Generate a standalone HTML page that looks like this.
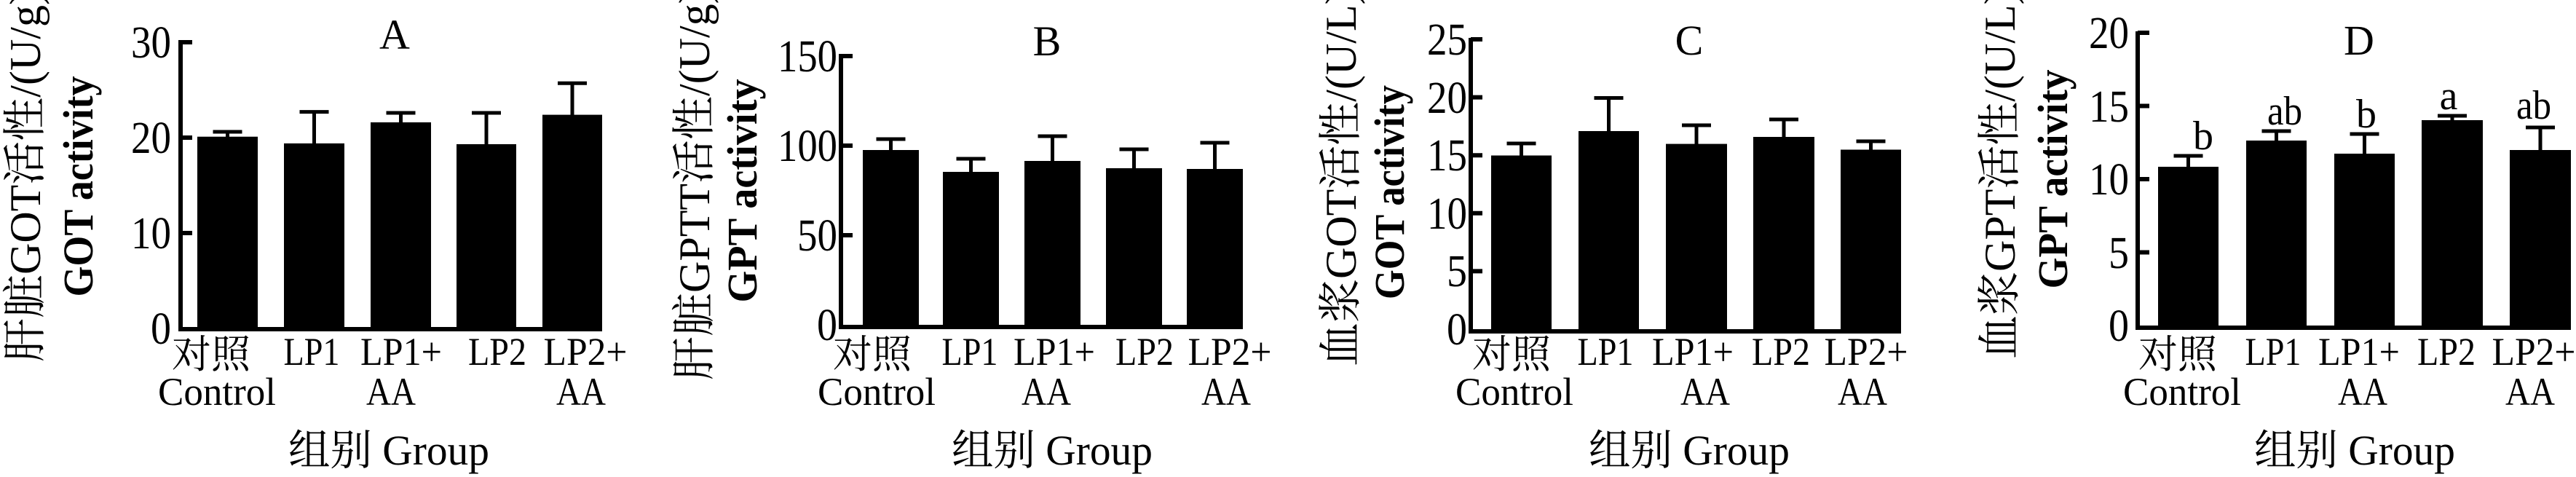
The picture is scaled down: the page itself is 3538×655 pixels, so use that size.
<!DOCTYPE html>
<html><head><meta charset="utf-8"><style>
html,body{margin:0;padding:0;background:#fff;}
svg{display:block}
svg text{font-family:"Liberation Serif","Noto Serif CJK SC",serif;fill:#000}
.t{font-size:62px}
.x{font-size:54px}
.yl{font-size:60px}
.y2{font-size:58px;font-weight:bold}
</style></head><body>
<svg width="3538" height="655" viewBox="0 0 3538 655" xmlns="http://www.w3.org/2000/svg" font-family="Liberation Serif, Noto Serif CJK SC, serif">
<g stroke="#000" fill="none" stroke-width="6">
<path d="M248 55 V452 H827"/>
<path d="M248 58 H264 M248 189 H264 M248 320 H264"/>
<path d="M1155 74 V449 H1707"/>
<path d="M1155 77 H1171 M1155 200 H1171 M1155 323 H1171"/>
<path d="M2020 52 V455 H2611"/>
<path d="M2020 54 H2036 M2020 133.6 H2036 M2020 213.2 H2036 M2020 292.8 H2036 M2020 372.4 H2036"/>
<path d="M2936 43 V450 H3531"/>
<path d="M2936 45 H2952 M2936 145.5 H2952 M2936 246 H2952 M2936 346.5 H2952"/>
</g>
<g fill="#000">
<rect x="271" y="187.7" width="83" height="264"/>
<rect x="390" y="196.9" width="83" height="255"/>
<rect x="509" y="168" width="83" height="284"/>
<rect x="627" y="198" width="82" height="254"/>
<rect x="745" y="157.6" width="82" height="295"/>
<rect x="1185" y="206" width="77" height="242"/>
<rect x="1295" y="236" width="77" height="212"/>
<rect x="1407" y="221" width="77" height="227"/>
<rect x="1519" y="231" width="77" height="217"/>
<rect x="1630" y="232" width="77" height="216"/>
<rect x="2048" y="213.5" width="83" height="240"/>
<rect x="2168" y="180" width="83" height="274"/>
<rect x="2288" y="197.6" width="84" height="256"/>
<rect x="2408" y="188" width="84" height="266"/>
<rect x="2528" y="205.5" width="83" height="248"/>
<rect x="2964" y="229" width="83" height="220"/>
<rect x="3085" y="193" width="83" height="256"/>
<rect x="3206" y="211" width="83" height="238"/>
<rect x="3326" y="165" width="84" height="284"/>
<rect x="3447" y="206" width="84" height="243"/>
</g>
<g stroke="#000" stroke-width="5" fill="none">
<path d="M312.5 188 V181 M292.5 181 H332.5"/>
<path d="M431.5 197 V153.6 M411.5 153.6 H451.5"/>
<path d="M550.5 168 V155 M530.5 155 H570.5"/>
<path d="M668 198 V155 M648 155 H688"/>
<path d="M786 158 V114.3 M766 114.3 H806"/>
<path d="M1223.5 206 V191 M1203.5 191 H1243.5"/>
<path d="M1333.5 236 V218 M1313.5 218 H1353.5"/>
<path d="M1445.5 221 V187 M1425.5 187 H1465.5"/>
<path d="M1557.5 231 V205 M1537.5 205 H1577.5"/>
<path d="M1668.5 232 V196 M1648.5 196 H1688.5"/>
<path d="M2089.5 214 V197 M2069.5 197 H2109.5"/>
<path d="M2209.5 180 V134.5 M2189.5 134.5 H2229.5"/>
<path d="M2330 198 V172 M2310 172 H2350"/>
<path d="M2450 188 V164 M2430 164 H2470"/>
<path d="M2569.5 206 V194 M2549.5 194 H2589.5"/>
<path d="M3005.5 229 V214 M2985.5 214 H3025.5"/>
<path d="M3126.5 193 V180 M3106.5 180 H3146.5"/>
<path d="M3247.5 211 V184 M3227.5 184 H3267.5"/>
<path d="M3368 165 V159 M3348 159 H3388"/>
<path d="M3489 206 V175 M3469 175 H3509"/>
</g>

<g class="t" text-anchor="end" font-family="Liberation Serif, serif">
<text x="235" y="79" textLength="55" lengthAdjust="spacingAndGlyphs">30</text><text x="235" y="210" textLength="55" lengthAdjust="spacingAndGlyphs">20</text><text x="235" y="341" textLength="55" lengthAdjust="spacingAndGlyphs">10</text><text x="235" y="472" textLength="28" lengthAdjust="spacingAndGlyphs">0</text>
<text x="1150" y="98" textLength="82" lengthAdjust="spacingAndGlyphs">150</text><text x="1150" y="221" textLength="82" lengthAdjust="spacingAndGlyphs">100</text><text x="1150" y="344" textLength="55" lengthAdjust="spacingAndGlyphs">50</text><text x="1150" y="467" textLength="28" lengthAdjust="spacingAndGlyphs">0</text>
<text x="2015" y="75" textLength="55" lengthAdjust="spacingAndGlyphs">25</text><text x="2015" y="155" textLength="55" lengthAdjust="spacingAndGlyphs">20</text><text x="2015" y="234" textLength="55" lengthAdjust="spacingAndGlyphs">15</text><text x="2015" y="314" textLength="55" lengthAdjust="spacingAndGlyphs">10</text><text x="2015" y="393" textLength="28" lengthAdjust="spacingAndGlyphs">5</text><text x="2015" y="473" textLength="28" lengthAdjust="spacingAndGlyphs">0</text>
<text x="2924" y="66" textLength="55" lengthAdjust="spacingAndGlyphs">20</text><text x="2924" y="167" textLength="55" lengthAdjust="spacingAndGlyphs">15</text><text x="2924" y="267" textLength="55" lengthAdjust="spacingAndGlyphs">10</text><text x="2924" y="368" textLength="28" lengthAdjust="spacingAndGlyphs">5</text><text x="2924" y="468" textLength="28" lengthAdjust="spacingAndGlyphs">0</text>
</g>
<g class="t" text-anchor="middle" font-family="Liberation Serif, serif" style="font-size:58px">
<text x="542" y="67">A</text><text x="1438" y="76">B</text><text x="2320" y="75">C</text><text x="3240" y="75">D</text>
</g>
<g class="t" text-anchor="middle" style="font-size:56px" font-family="Liberation Serif, serif">
<text x="3026" y="205">b</text><text x="3138" y="171" textLength="48" lengthAdjust="spacingAndGlyphs">ab</text><text x="3250" y="175">b</text><text x="3363" y="150">a</text><text x="3480" y="163" textLength="48" lengthAdjust="spacingAndGlyphs">ab</text>
</g>

<g class="x" text-anchor="middle" font-family="Liberation Serif, Noto Serif CJK SC, serif">
<text x="290" y="505" style="font-size:54px">对照</text>
<text x="298" y="556" textLength="162" lengthAdjust="spacingAndGlyphs">Control</text>
<text x="428" y="501" textLength="77" lengthAdjust="spacingAndGlyphs">LP1</text>
<text x="551" y="501" textLength="112" lengthAdjust="spacingAndGlyphs">LP1+</text>
<text x="537" y="556" textLength="68" lengthAdjust="spacingAndGlyphs">AA</text>
<text x="683" y="501" textLength="80" lengthAdjust="spacingAndGlyphs">LP2</text>
<text x="804" y="501" textLength="115" lengthAdjust="spacingAndGlyphs">LP2+</text>
<text x="798" y="556" textLength="68" lengthAdjust="spacingAndGlyphs">AA</text>
<text x="534" y="638" style="font-size:58px" textLength="276" lengthAdjust="spacingAndGlyphs">组别 Group</text>

<text x="1198" y="505" style="font-size:54px">对照</text>
<text x="1204" y="556" textLength="162" lengthAdjust="spacingAndGlyphs">Control</text>
<text x="1332" y="501" textLength="77" lengthAdjust="spacingAndGlyphs">LP1</text>
<text x="1448" y="501" textLength="112" lengthAdjust="spacingAndGlyphs">LP1+</text>
<text x="1437" y="556" textLength="68" lengthAdjust="spacingAndGlyphs">AA</text>
<text x="1572" y="501" textLength="80" lengthAdjust="spacingAndGlyphs">LP2</text>
<text x="1689" y="501" textLength="115" lengthAdjust="spacingAndGlyphs">LP2+</text>
<text x="1684" y="556" textLength="68" lengthAdjust="spacingAndGlyphs">AA</text>
<text x="1445" y="638" style="font-size:58px" textLength="276" lengthAdjust="spacingAndGlyphs">组别 Group</text>

<text x="2076" y="505" style="font-size:54px">对照</text>
<text x="2080" y="556" textLength="162" lengthAdjust="spacingAndGlyphs">Control</text>
<text x="2205" y="501" textLength="77" lengthAdjust="spacingAndGlyphs">LP1</text>
<text x="2325" y="501" textLength="112" lengthAdjust="spacingAndGlyphs">LP1+</text>
<text x="2342" y="556" textLength="68" lengthAdjust="spacingAndGlyphs">AA</text>
<text x="2446" y="501" textLength="80" lengthAdjust="spacingAndGlyphs">LP2</text>
<text x="2563" y="501" textLength="115" lengthAdjust="spacingAndGlyphs">LP2+</text>
<text x="2558" y="556" textLength="68" lengthAdjust="spacingAndGlyphs">AA</text>
<text x="2320" y="638" style="font-size:58px" textLength="276" lengthAdjust="spacingAndGlyphs">组别 Group</text>

<text x="2991" y="505" style="font-size:54px">对照</text>
<text x="2997" y="556" textLength="162" lengthAdjust="spacingAndGlyphs">Control</text>
<text x="3122" y="501" textLength="77" lengthAdjust="spacingAndGlyphs">LP1</text>
<text x="3240" y="501" textLength="112" lengthAdjust="spacingAndGlyphs">LP1+</text>
<text x="3245" y="556" textLength="68" lengthAdjust="spacingAndGlyphs">AA</text>
<text x="3360" y="501" textLength="80" lengthAdjust="spacingAndGlyphs">LP2</text>
<text x="3480" y="501" textLength="115" lengthAdjust="spacingAndGlyphs">LP2+</text>
<text x="3475" y="556" textLength="68" lengthAdjust="spacingAndGlyphs">AA</text>
<text x="3234" y="638" style="font-size:58px" textLength="276" lengthAdjust="spacingAndGlyphs">组别 Group</text>
</g>

<g font-family="Liberation Serif, Noto Serif CJK SC, serif">
<text class="yl" transform="translate(55,497) rotate(-90)">肝脏GOT活性/(U/g)</text>
<text class="y2" text-anchor="middle" transform="translate(127,256) rotate(-90)" textLength="303" lengthAdjust="spacingAndGlyphs">GOT activity</text>

<text class="yl" transform="translate(974,522) rotate(-90)">肝脏GPTT活性/(U/g)</text>
<text class="y2" text-anchor="middle" transform="translate(1039,262) rotate(-90)" textLength="307" lengthAdjust="spacingAndGlyphs">GPT activity</text>

<text class="yl" transform="translate(1862,503) rotate(-90)">血浆GOT活性/(U/L)</text>
<text class="y2" text-anchor="middle" transform="translate(1928,264) rotate(-90)" textLength="294" lengthAdjust="spacingAndGlyphs">GOT activity</text>

<text class="yl" transform="translate(2767,493) rotate(-90)">血浆GPT活性/(U/L)</text>
<text class="y2" text-anchor="middle" transform="translate(2839,246) rotate(-90)" textLength="301" lengthAdjust="spacingAndGlyphs">GPT activity</text>
</g>
</svg>
</body></html>
